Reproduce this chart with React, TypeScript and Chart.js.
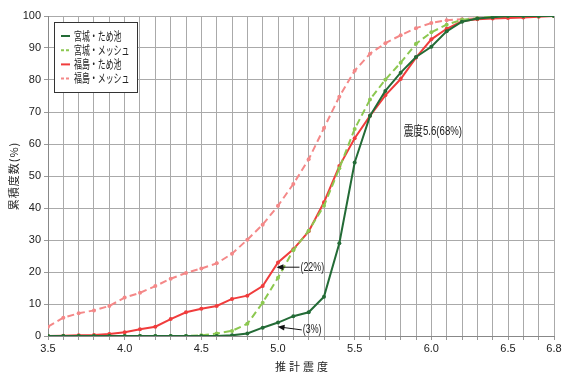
import React, { useEffect, useRef } from 'react';
import { Chart, registerables } from 'chart.js';

Chart.register(...registerables);

const intensity = [3.5, 3.6, 3.7, 3.8, 3.9, 4.0, 4.1, 4.2, 4.3, 4.4, 4.5, 4.6, 4.7, 4.8, 4.9, 5.0, 5.1, 5.2, 5.3, 5.4, 5.5, 5.6, 5.7, 5.8, 5.9, 6.0, 6.1, 6.2, 6.3, 6.4, 6.5, 6.6, 6.7, 6.8];

const miyagiPond = [0, 0, 0, 0, 0, 0, 0, 0, 0, 0, 0, 0, 0.2, 0.8, 2.6, 4.2, 6.2, 7.4, 12.3, 29, 54.2, 68.8, 76.6, 82.3, 87.2, 90.4, 95.2, 98.2, 99.2, 99.6, 100, 100, 100, 100];
const miyagiMesh = [0, 0, 0, 0, 0, 0, 0, 0, 0, 0, 0.2, 0.8, 1.6, 3.8, 10.4, 18.2, 26.8, 32.9, 40.7, 52.4, 64.7, 73.9, 80.1, 85.4, 91.3, 94.9, 97.3, 98.8, 99.3, 99.8, 100, 100, 100, 100];
const fukushimaPond = [0, 0.1, 0.2, 0.3, 0.6, 1.2, 2.1, 2.9, 5.3, 7.4, 8.5, 9.4, 11.6, 12.6, 15.6, 23, 27.1, 32.7, 41.8, 53.1, 61.8, 68.8, 75.2, 80.3, 87, 92.7, 96, 98.4, 99, 99.2, 99.4, 99.5, 99.8, 100];
const fukushimaMesh = [2.9, 5.7, 7.1, 8, 9.4, 12, 13.5, 15.6, 17.9, 19.7, 21.1, 22.7, 25.7, 30.1, 34.8, 40.7, 47.5, 55.2, 65, 74.8, 82.9, 88.2, 91.5, 94, 96.2, 97.8, 98.7, 99, 99.3, 99.5, 99.7, 99.8, 100, 100];

const seriesNames = ['宮城・ため池', '宮城・メッシュ', '福島・ため池', '福島・メッシュ'];
const seriesColors = ['#236b36', '#8cc850', '#f03c3c', '#f48888'];
const seriesDashed = [false, true, false, true];

const xTickLabels = ['3.5', '4.0', '4.5', '5.0', '5.5', '6.0', '6.5', '6.8'];
const xTitle = '推計震度';
const yTitle = '累積度数(%)';

const note22 = { x0: 5.14, y0: 21.5, x1: 4.99, y1: 21.5, text: '(22%)' };
const note3 = { x0: 5.155, y0: 1.9, x1: 4.997, y1: 2.9, text: '(3%)' };
const note68 = { x: 6.01, y: 64, text: '震度5.6(68%)' };

function drawScaledText(ctx: CanvasRenderingContext2D, text: string, x: number, y: number, font: string, sx: number, align: CanvasTextAlign = 'left') {
  ctx.save();
  ctx.font = font;
  ctx.textBaseline = 'middle';
  ctx.translate(x, y);
  ctx.scale(sx, 1);
  ctx.textAlign = align;
  ctx.fillText(text, 0, 0);
  ctx.restore();
}

function arrow(ctx: CanvasRenderingContext2D, x0: number, y0: number, x1: number, y1: number) {
  const ang = Math.atan2(y1 - y0, x1 - x0);
  const len = 7;
  const w = 3;
  ctx.save();
  ctx.strokeStyle = '#111';
  ctx.fillStyle = '#111';
  ctx.lineWidth = 1;
  ctx.beginPath();
  ctx.moveTo(x0, y0);
  ctx.lineTo(x1 - Math.cos(ang) * len * 0.8, y1 - Math.sin(ang) * len * 0.8);
  ctx.stroke();
  ctx.beginPath();
  ctx.moveTo(x1, y1);
  ctx.lineTo(x1 - Math.cos(ang) * len - Math.sin(ang) * w, y1 - Math.sin(ang) * len + Math.cos(ang) * w);
  ctx.lineTo(x1 - Math.cos(ang) * len + Math.sin(ang) * w, y1 - Math.sin(ang) * len - Math.cos(ang) * w);
  ctx.closePath();
  ctx.fill();
  ctx.restore();
}

const overlayPlugin = {
  id: 'overlay',
  afterDatasetsDraw(chart: any) {
    const ctx: CanvasRenderingContext2D = chart.ctx;
    const xs = chart.scales.x;
    const ys = chart.scales.y;
    const area = chart.chartArea;
    const px = (v: number) => xs.getPixelForValue(v);
    const py = (v: number) => ys.getPixelForValue(v);

    // legend
    const lx = area.left + 6;
    const ly = area.top + 6;
    ctx.save();
    ctx.fillStyle = '#ffffff';
    ctx.fillRect(lx + 0.5, ly + 0.5, 83, 70);
    ctx.strokeStyle = '#333';
    ctx.lineWidth = 1;
    ctx.strokeRect(lx + 0.5, ly + 0.5, 83, 70);
    seriesNames.forEach((name, i) => {
      const yy = ly + 14 + i * 14.2;
      ctx.save();
      ctx.strokeStyle = seriesColors[i];
      ctx.lineWidth = 2;
      ctx.setLineDash(seriesDashed[i] ? [3, 2] : []);
      ctx.beginPath();
      ctx.moveTo(lx + 7, yy);
      ctx.lineTo(lx + 16, yy);
      ctx.stroke();
      ctx.restore();
      ctx.fillStyle = '#222';
      drawScaledText(ctx, name, lx + 20, yy, "12px 'Noto Sans CJK JP'", 0.66);
    });
    ctx.restore();

    // annotations
    ctx.save();
    ctx.fillStyle = '#222';
    arrow(ctx, px(note22.x0), py(note22.y0), px(note22.x1), py(note22.y1));
    drawScaledText(ctx, note22.text, px(note22.x0) + 1, py(note22.y0), "12px 'Liberation Sans'", 0.74);
    arrow(ctx, px(note3.x0), py(note3.y0), px(note3.x1), py(note3.y1));
    drawScaledText(ctx, note3.text, px(note3.x0) + 1, py(note3.y0), "12px 'Liberation Sans'", 0.74);
    drawScaledText(ctx, note68.text, px(note68.x), py(note68.y), "13px 'Liberation Sans', 'Noto Sans CJK JP'", 0.74, 'center');

    // axis titles
    ctx.fillStyle = '#222';
    ctx.save();
    ctx.font = "11px 'Noto Sans CJK JP'";
    (ctx as any).letterSpacing = '3px';
    ctx.textAlign = 'center';
    ctx.textBaseline = 'middle';
    ctx.fillText(xTitle, (area.left + area.right) / 2 + 2, 367);
    ctx.restore();

    ctx.save();
    ctx.translate(14, (area.top + area.bottom) / 2);
    ctx.rotate(-Math.PI / 2);
    ctx.font = "11px 'Noto Sans CJK JP'";
    (ctx as any).letterSpacing = '1px';
    ctx.textAlign = 'center';
    ctx.textBaseline = 'middle';
    ctx.fillText(yTitle, 0, 0);
    ctx.restore();
    ctx.restore();
  },
};

export default function App() {
  const ref = useRef<HTMLCanvasElement>(null);
  useEffect(() => {
    document.body.style.margin = '0';
    const datasets = [miyagiPond, miyagiMesh, fukushimaPond, fukushimaMesh].map((vals, i) => ({
      label: seriesNames[i],
      data: intensity.map((x, j) => ({ x, y: vals[j] })),
      borderColor: seriesColors[i],
      backgroundColor: seriesColors[i],
      borderWidth: 2,
      borderDash: seriesDashed[i] ? [7, 4] : [],
      pointRadius: 2,
      pointBorderWidth: 0,
      pointBackgroundColor: seriesColors[i],
      tension: 0,
      fill: false,
    }));
    const chart = new Chart(ref.current as HTMLCanvasElement, {
      type: 'line',
      data: { datasets },
      plugins: [overlayPlugin],
      options: {
        animation: false,
        responsive: true,
        maintainAspectRatio: false,
        layout: { padding: { top: 16, right: 13, left: 0, bottom: 0 } },
        plugins: { legend: { display: false }, tooltip: { enabled: false } },
        scales: {
          x: {
            type: 'linear',
            min: 3.5,
            max: 6.8,
            afterFit: (s: any) => { s.height = 38; },
            afterBuildTicks: (s: any) => {
              const t = [];
              for (let k = 35; k <= 68; k++) t.push({ value: k / 10 });
              s.ticks = t;
            },
            grid: { color: '#aaaaaa', lineWidth: 1, tickLength: 4, tickColor: '#999' },
            border: { color: '#888', width: 1 },
            ticks: {
              autoSkip: false,
              maxRotation: 0,
              padding: 2,
              color: '#222',
              font: { family: "'Liberation Sans Narrow', 'Liberation Sans'", size: 11 },
              callback: (v: any) => {
                const s = (Math.round(Number(v) * 10) / 10).toFixed(1);
                return xTickLabels.includes(s) ? s : '';
              },
            },
          },
          y: {
            min: 0,
            max: 100,
            afterFit: (s: any) => { s.width = 48; },
            grid: { color: '#aaaaaa', lineWidth: 1, tickLength: 4, tickColor: '#999' },
            border: { color: '#888', width: 1 },
            ticks: {
              stepSize: 10,
              padding: 3,
              color: '#222',
              font: { family: "'Liberation Sans Narrow', 'Liberation Sans'", size: 11 },
            },
          },
        },
      },
    });
    return () => chart.destroy();
  }, []);
  return (
    <div style={{ position: 'fixed', left: 0, top: 0, width: 567, height: 374, background: '#fff' }}>
      <canvas ref={ref} />
    </div>
  );
}
